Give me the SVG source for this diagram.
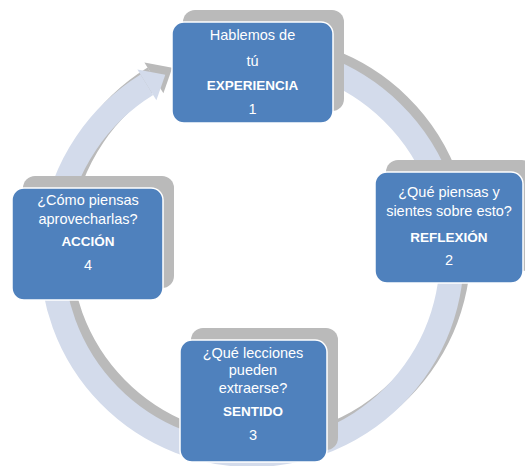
<svg xmlns="http://www.w3.org/2000/svg" width="525" height="466" viewBox="0 0 525 466">
  <defs>
    <filter id="soft" x="-10%" y="-10%" width="120%" height="120%">
      <feGaussianBlur stdDeviation="0.7"/>
    </filter>
    <style>
      .box { fill: #4f81bd; stroke: #ffffff; stroke-width: 1.5; }
      .shadow { fill: #bababa; filter: url(#soft); }
      .t { font-family: "Liberation Sans", Arial, sans-serif; font-size: 14.5px; fill: #ffffff; text-anchor: middle; }
      .b { font-weight: bold; font-size: 13.5px; }
      .ring { fill: none; stroke-width: 24; stroke-linecap: butt; }
    </style>
  </defs>
  <rect width="525" height="466" fill="#ffffff"/>

  <g id="connectors">
    <g transform="translate(7,-7)" filter="url(#soft)">
      <path class="ring" stroke="#bababa" d="M 320.4 67.1 A 200 200 0 1 1 146.9 84.8"/>
      <polygon fill="#bababa" points="156.4,100.2 137.4,69.5 165.3,74.8"/>
    </g>
    <path class="ring" stroke="#d3dbeb" d="M 320.4 67.1 A 200 200 0 1 1 146.9 84.8"/>
    <polygon fill="#d3dbeb" points="156.4,100.2 137.4,69.5 165.3,74.8"/>
  </g>

  <g id="node1">
    <rect class="shadow" x="183" y="10" width="161" height="101" rx="12"/>
    <rect class="box" x="172" y="22" width="161" height="101" rx="12"/>
    <text class="t" x="252.5" y="40">Hablemos de</text>
    <text class="t" x="252.5" y="66">tú</text>
    <text class="t b" x="252.5" y="90">EXPERIENCIA</text>
    <text class="t" x="252.5" y="114">1</text>
  </g>

  <g id="node2">
    <rect class="shadow" x="386" y="160" width="148" height="111" rx="12"/>
    <rect class="box" x="375" y="172" width="148" height="111" rx="12"/>
    <text class="t" x="449" y="197">¿Qué piensas y</text>
    <text class="t" x="449" y="216">sientes sobre esto?</text>
    <text class="t b" x="449" y="242">REFLEXIÓN</text>
    <text class="t" x="449" y="265">2</text>
  </g>

  <g id="node3">
    <rect class="shadow" x="191" y="328" width="147" height="122" rx="12"/>
    <rect class="box" x="180" y="340" width="147" height="122" rx="12"/>
    <text class="t" x="253" y="358">¿Qué lecciones</text>
    <text class="t" x="253" y="375">pueden</text>
    <text class="t" x="253" y="393">extraerse?</text>
    <text class="t b" x="253" y="416">SENTIDO</text>
    <text class="t" x="253" y="440">3</text>
  </g>

  <g id="node4">
    <rect class="shadow" x="23" y="176" width="151" height="112" rx="12"/>
    <rect class="box" x="12" y="188" width="151" height="112" rx="12"/>
    <text class="t" x="88" y="205">¿Cómo piensas</text>
    <text class="t" x="88" y="224">aprovecharlas?</text>
    <text class="t b" x="88" y="246">ACCIÓN</text>
    <text class="t" x="88" y="270">4</text>
  </g>
</svg>
